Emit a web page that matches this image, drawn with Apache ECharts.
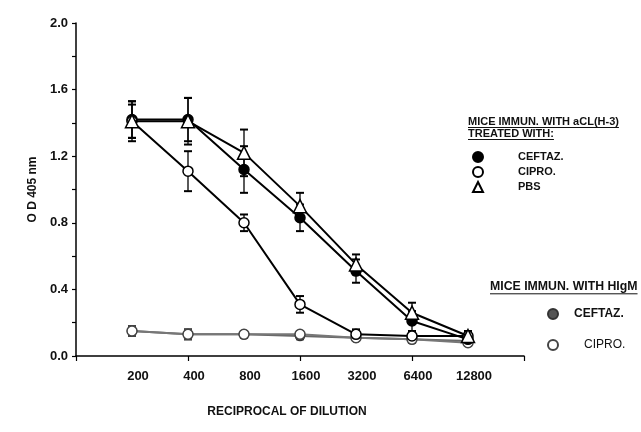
<!DOCTYPE html>
<html><head><meta charset="utf-8">
<script src="https://cdn.jsdelivr.net/npm/echarts@6/dist/echarts.min.js"></script>
<style>html,body{margin:0;padding:0;background:#fff}#c{width:641px;height:432px}</style>
</head><body><div id="c"></div>
<script>
const categories = ['200','400','800','1600','3200','6400','12800'];
const yTicks = [0.0,0.4,0.8,1.2,1.6,2.0];
// Upper group: mice immunized with aCL(H-3)
const ceftazA = [1.42,1.42,1.12,0.83,0.51,0.21,0.10];
const ceftazAErr = [0.11,0.13,0.14,0.08,0.07,0.06,0.03];
const ciproA = [1.41,1.11,0.80,0.31,0.13,0.12,0.12];
const ciproAErr = [0.10,0.12,0.05,0.05,0.03,0.02,0.02];
const pbsA = [1.41,1.41,1.22,0.90,0.55,0.26,0.12];
const pbsAErr = [0.12,0.14,0.14,0.08,0.06,0.06,0.03];
// Lower group: mice immunized with HIgM
const ceftazM = [0.15,0.13,0.13,0.12,0.11,0.10,0.09];
const ceftazMErr = [0.03,0.03,0.02,0.02,0.02,0.02,0.02];
const ciproM = [0.15,0.13,0.13,0.13,0.11,0.10,0.08];
const ciproMErr = [0.03,0.03,0.02,0.02,0.02,0.02,0.02];

const FONT = 'Liberation Sans, Arial, sans-serif';
const pts = arr => arr.map((v,i)=>[i+1, v]);
const errPts = (vals, errs) => vals.map((v,i)=>[i+1, v, errs[i]]);

function errSeries(vals, errs, color){
  return {
    type:'custom', xAxisIndex:0, yAxisIndex:0, z:1, silent:true,
    data: errPts(vals, errs),
    renderItem: function(params, api){
      const x = api.value(0), y = api.value(1), e = api.value(2);
      const top = api.coord([x, y+e]);
      const bot = api.coord([x, y-e]);
      const cw = 4;
      return {type:'group', children:[
        {type:'line', shape:{x1:top[0],y1:top[1],x2:bot[0],y2:bot[1]}, style:{stroke:color, lineWidth:1.3}},
        {type:'line', shape:{x1:top[0]-cw,y1:top[1],x2:top[0]+cw,y2:top[1]}, style:{stroke:color,lineWidth:2}},
        {type:'line', shape:{x1:bot[0]-cw,y1:bot[1],x2:bot[0]+cw,y2:bot[1]}, style:{stroke:color,lineWidth:2}}
      ]};
    }
  };
}

function lineSeries(name, vals, symbol, size, fill, stroke, lineColor, z){
  return {
    type:'line', name:name, data:pts(vals), xAxisIndex:0, yAxisIndex:0, z:z,
    symbol:symbol, symbolSize:size, showSymbol:true,
    lineStyle:{color:lineColor, width:2},
    itemStyle:{color:fill, borderColor:stroke, borderWidth:1.5}
  };
}

const chart = echarts.init(document.getElementById('c'), null, {renderer:'canvas'});

const ctx = document.createElement('canvas').getContext('2d');
function tw(text, size){ ctx.font = 'bold ' + size + 'px ' + FONT; return ctx.measureText(text).width; }

const h1 = 'MICE IMMUN. WITH aCL(H-3)', h2 = 'TREATED WITH:', h3 = 'MICE IMMUN. WITH HIgM';
function heading(text, x, y, hs){
  const w = tw(text, hs);
  return [
    {type:'text', left:x, top:y, style:{text:text, font:'bold '+hs+'px '+FONT, fill:'#111'}},
    {type:'line', shape:{x1:x, y1:y+hs+0.5, x2:x+w, y2:y+hs+0.5}, style:{stroke:'#111', lineWidth:1}}
  ];
}

const option = {
  animation:false,
  backgroundColor:'#fff',
  grid:{left:76, top:23, width:448, height:333},
  xAxis:[
    {type:'value', min:0, max:8, interval:2, position:'bottom',
     axisLine:{lineStyle:{color:'#000', width:1.5}},
     axisTick:{show:true, length:5, lineStyle:{color:'#000', width:1.2}},
     axisLabel:{show:false}, splitLine:{show:false}},
    {type:'value', min:0, max:8, interval:1, position:'bottom',
     axisLine:{show:false}, axisTick:{show:false}, splitLine:{show:false},
     axisLabel:{margin:14, fontFamily:FONT, fontWeight:'bold', fontSize:13, color:'#111',
       padding:[0,0,0,12],
       formatter: v => (v>=1 && v<=7) ? categories[v-1] : ''}}
  ],
  yAxis:{type:'value', min:0, max:2, interval:0.4,
    axisLine:{show:true, lineStyle:{color:'#000', width:1.5}},
    axisTick:{show:true, length:4, lineStyle:{color:'#000', width:1.2}},
    minorTick:{show:true, splitNumber:2, length:4, lineStyle:{color:'#000', width:1.2}},
    splitLine:{show:false}, minorSplitLine:{show:false},
    axisLabel:{margin:8, fontFamily:FONT, fontWeight:'bold', fontSize:13, color:'#111',
      formatter: v => yTicks.some(t=>Math.abs(t-v)<1e-9) ? v.toFixed(1) : ''},
    name:'O D 405 nm', nameLocation:'middle', nameGap:34, nameRotate:90,
    nameTextStyle:{fontFamily:FONT, fontWeight:'bold', fontSize:12, color:'#111'}
  },
  legend:[
    {orient:'vertical', left:467, top:146, itemGap:3, itemWidth:10, itemHeight:10,
     textStyle:{fontFamily:FONT, fontWeight:'bold', fontSize:11, color:'#111', padding:[0,0,0,30]},
     data:[{name:'CEFTAZ.', icon:'circle'},{name:'CIPRO.', icon:'circle'},{name:'PBS', icon:'triangle'}],
     selectedMode:false},
    {orient:'vertical', left:542, top:303, itemGap:19, itemWidth:10, itemHeight:10,
     formatter: n => n.indexOf('CIPRO') === 0 ? '{r|' + n.trim() + '}' : '{b|' + n.trim() + '}',
     textStyle:{fontFamily:FONT, fontSize:12, color:'#111',
       rich:{
         b:{fontFamily:FONT, fontWeight:'bold', fontSize:12, color:'#111', padding:[0,0,0,11]},
         r:{fontFamily:FONT, fontWeight:'normal', fontSize:12, color:'#111', padding:[0,0,0,21]}
       }},
     data:[{name:'CEFTAZ. ', icon:'circle'},{name:'CIPRO. ', icon:'circle'}],
     selectedMode:false}
  ],
  graphic:[
    ...heading(h1, 468, 116, 11),
    ...heading(h2, 468, 128, 11),
    ...heading(h3, 490, 281, 12.3),
    {type:'text', x:287, y:406, style:{text:'RECIPROCAL OF DILUTION', font:'bold 12px '+FONT, fill:'#111', textAlign:'center'}}
  ],
  series:[
    errSeries(ceftazM, ceftazMErr, '#444'),
    errSeries(ciproM, ciproMErr, '#444'),
    errSeries(ceftazA, ceftazAErr, '#000'),
    errSeries(ciproA, ciproAErr, '#000'),
    errSeries(pbsA, pbsAErr, '#000'),
    lineSeries('CEFTAZ. ', ceftazM, 'circle', 9, '#555', '#333', '#666', 3),
    lineSeries('CIPRO. ', ciproM, 'circle', 10, '#fff', '#444', '#777', 3),
    lineSeries('CEFTAZ.', ceftazA, 'circle', 10, '#000', '#000', '#000', 4),
    lineSeries('CIPRO.', ciproA, 'circle', 10, '#fff', '#000', '#000', 4),
    lineSeries('PBS', pbsA, 'triangle', 13, '#fff', '#000', '#000', 5)
  ]
};
chart.setOption(option);
</script></body></html>
